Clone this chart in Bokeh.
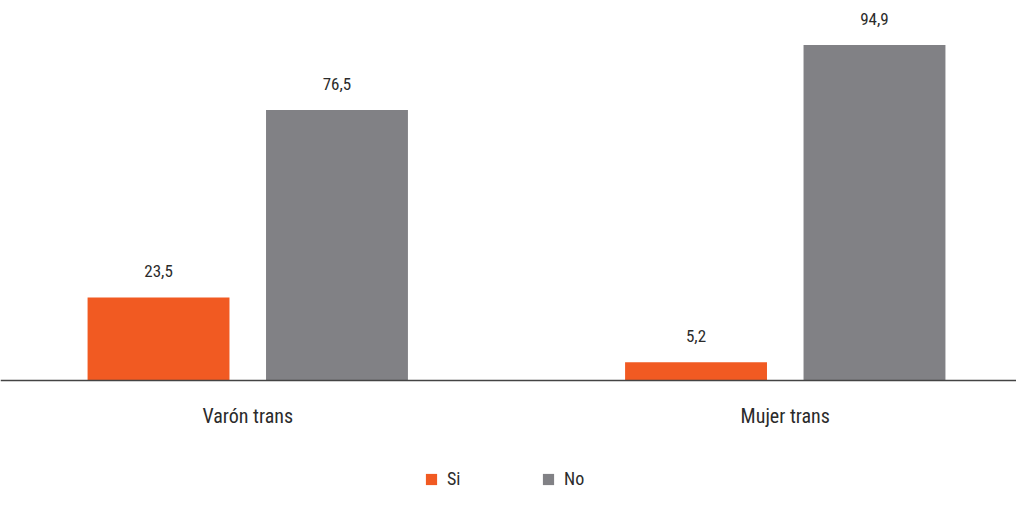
from bokeh.plotting import figure
from bokeh.models import ColumnDataSource, Range1d, Legend, LegendItem, Span
from bokeh.transform import dodge
from bokeh.core.properties import value
from bokeh.embed import file_html
from bokeh.resources import INLINE

categories = ["Varón trans", "Mujer trans"]
si_values = [23.5, 5.2]
no_values = [76.5, 94.9]
si_labels = ["23,5", "5,2"]
no_labels = ["76,5", "94,9"]
series = ["Si", "No"]

FONT = "Liberation Sans Narrow, Roboto Condensed, DejaVu Sans Condensed, sans-serif"
ORANGE = "#F15A22"
GRAY = "#818185"
TEXT = "#2b2b2b"

xs = list(range(len(categories)))
src = ColumnDataSource(dict(x=xs, cat=categories, zero=[0] * len(xs),
                            si=si_values, no=no_values, si_l=si_labels, no_l=no_labels))

p = figure(width=1016, height=489, output_backend="svg", toolbar_location=None,
           x_range=Range1d(-0.46, 1.4302), y_range=Range1d(-30.83, 107.5),
           min_border_left=0, min_border_right=0, min_border_top=0, min_border_bottom=0)

off = 0.166
bw = 0.264
r_si = p.vbar(x=dodge("x", -off), top="si", width=bw, bottom=0, source=src,
              fill_color=ORANGE, line_color=None)
r_no = p.vbar(x=dodge("x", off), top="no", width=bw, bottom=0, source=src,
              fill_color=GRAY, line_color=None)

for col, lab, o in (("si", "si_l", -off), ("no", "no_l", off)):
    p.text(x=dodge("x", o), y=col, text=lab, source=src, text_align="center",
           text_baseline="middle", y_offset=-26, text_font=value(FONT),
           text_font_size="17px", text_color=TEXT)

# baseline and category labels
p.add_layout(Span(location=0, dimension="width", line_color="#444444", line_width=1.5))
p.text(x="x", y="zero", text="cat", source=src, text_align="center",
       text_baseline="middle", y_offset=35, text_font=value(FONT),
       text_font_size="20px", text_color=TEXT)

p.xaxis.visible = False
p.yaxis.visible = False
p.xgrid.visible = False
p.ygrid.visible = False
p.outline_line_color = None

legend = Legend(items=[LegendItem(label=series[0], renderers=[r_si]),
                       LegendItem(label=series[1], renderers=[r_no])],
                orientation="horizontal", location=(424, 0),
                glyph_width=14, glyph_height=14, label_standoff=9,
                label_width=35, spacing=59, padding=0, margin=0,
                border_line_color=None, background_fill_alpha=0,
                label_text_font=FONT, label_text_font_size="18px",
                label_text_color=TEXT)
p.add_layout(legend, "center")

open("out.html", "w").write(file_html(p, INLINE))
